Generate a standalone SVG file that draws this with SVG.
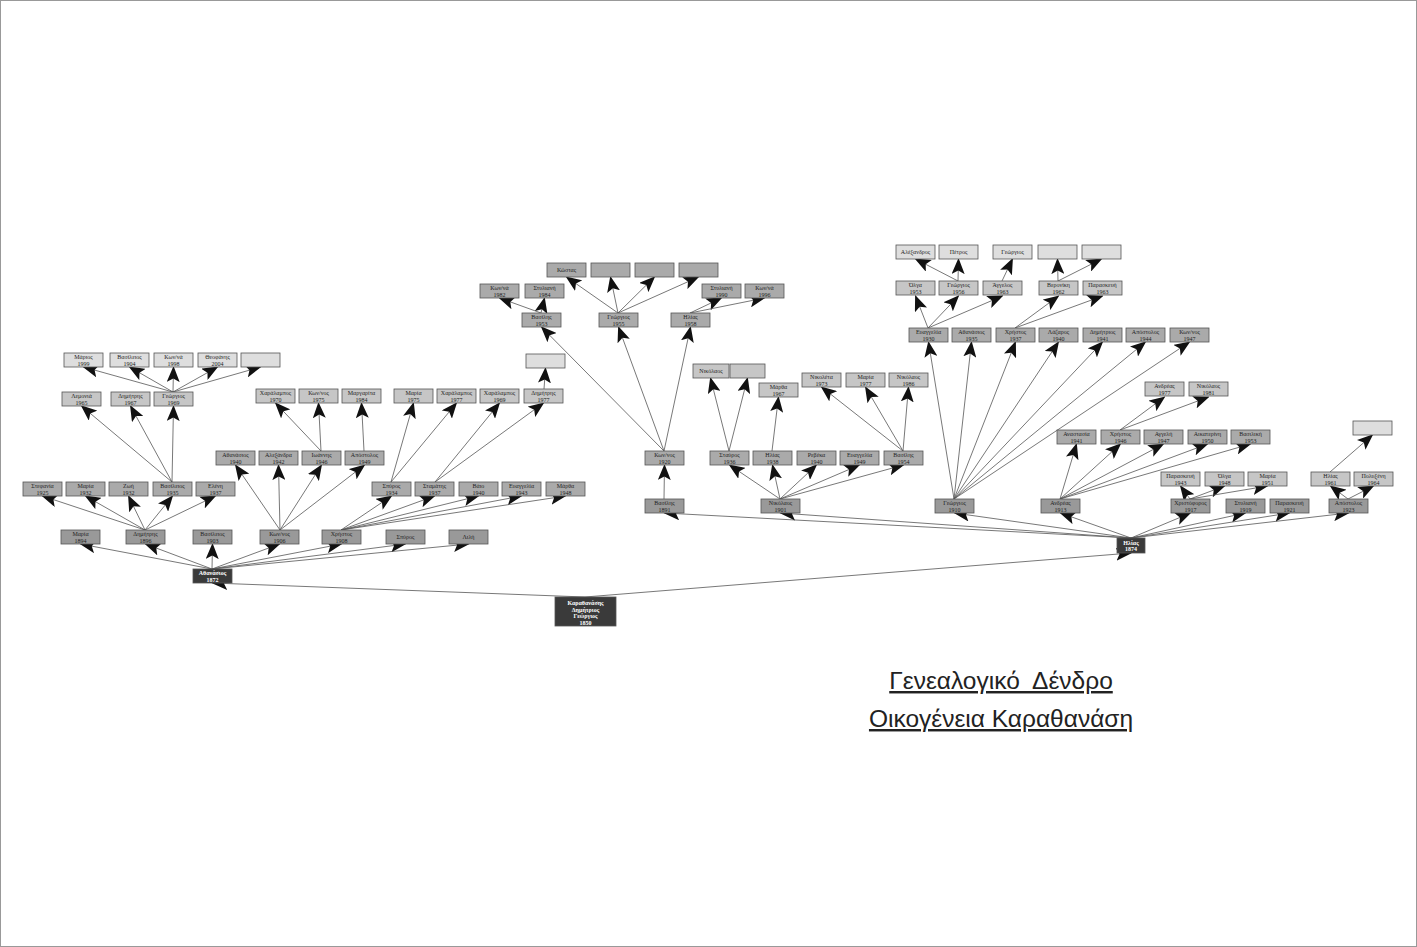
<svg xmlns="http://www.w3.org/2000/svg" width="1417" height="947" viewBox="0 0 1417 947">
<style>
rect.b{stroke:#555;stroke-width:0.8}
.d rect{fill:#3a3a3a}
.g2 rect{fill:#999}
.g3 rect{fill:#aaa}
.g4 rect{fill:#c6c6c6}
.g5 rect{fill:#dedede}
text{font-family:"Liberation Serif","DejaVu Serif",serif;font-size:6px;fill:#222;text-anchor:middle}
.d text{fill:#fff;font-weight:bold}
.edges line{stroke:#555;stroke-width:0.8;marker-end:url(#ah)}
.title{font-family:"Liberation Sans",Arial,sans-serif;font-size:24.5px;fill:#222;text-decoration:underline;white-space:pre}
</style>
<defs>
<marker id="ah" markerUnits="userSpaceOnUse" markerWidth="16" markerHeight="13" viewBox="0 0 16 13" refX="15" refY="6.5" orient="auto">
<path d="M0,0 L16,6.5 L0,13 L3.5,6.5 z" fill="#111"/>
</marker>
</defs>
<rect x="0.5" y="0.5" width="1416" height="946" fill="#fff" stroke="#999"/>

<g class="edges">
<line x1="585" y1="597" x2="212.5" y2="583"/>
<line x1="585" y1="597" x2="1131" y2="553"/>
<line x1="212" y1="569" x2="80.5" y2="544"/>
<line x1="212" y1="569" x2="145.5" y2="544"/>
<line x1="212" y1="569" x2="212.5" y2="544"/>
<line x1="212" y1="569" x2="279.5" y2="544"/>
<line x1="212" y1="569" x2="341.5" y2="544"/>
<line x1="212" y1="569" x2="405.5" y2="544"/>
<line x1="212" y1="569" x2="468.5" y2="544"/>
<line x1="145" y1="530" x2="42.5" y2="496"/>
<line x1="145" y1="530" x2="85.5" y2="496"/>
<line x1="145" y1="530" x2="128.5" y2="496"/>
<line x1="145" y1="530" x2="172.5" y2="496"/>
<line x1="145" y1="530" x2="215.5" y2="496"/>
<line x1="172" y1="482" x2="81.5" y2="406"/>
<line x1="172" y1="482" x2="130.5" y2="406"/>
<line x1="172" y1="482" x2="173.5" y2="406"/>
<line x1="173" y1="392" x2="83.5" y2="367"/>
<line x1="173" y1="392" x2="129.5" y2="367"/>
<line x1="173" y1="392" x2="173.5" y2="367"/>
<line x1="173" y1="392" x2="217.5" y2="367"/>
<line x1="173" y1="392" x2="260.5" y2="367"/>
<line x1="280" y1="530" x2="235.5" y2="465"/>
<line x1="280" y1="530" x2="278.5" y2="465"/>
<line x1="280" y1="530" x2="321.5" y2="465"/>
<line x1="280" y1="530" x2="364.5" y2="465"/>
<line x1="321" y1="451" x2="275.5" y2="403"/>
<line x1="321" y1="451" x2="318.5" y2="403"/>
<line x1="364" y1="451" x2="361.5" y2="403"/>
<line x1="341" y1="530" x2="391.5" y2="496"/>
<line x1="341" y1="530" x2="434.5" y2="496"/>
<line x1="341" y1="530" x2="478.5" y2="496"/>
<line x1="341" y1="530" x2="521.5" y2="496"/>
<line x1="341" y1="530" x2="565.5" y2="496"/>
<line x1="391" y1="482" x2="413.5" y2="403"/>
<line x1="391" y1="482" x2="456.5" y2="403"/>
<line x1="435" y1="482" x2="499.5" y2="403"/>
<line x1="435" y1="482" x2="543.5" y2="403"/>
<line x1="544" y1="389" x2="545.5" y2="368"/>

<line x1="1131" y1="538" x2="664.5" y2="513"/>
<line x1="1131" y1="538" x2="780.5" y2="513"/>
<line x1="1131" y1="538" x2="954.5" y2="513"/>
<line x1="1131" y1="538" x2="1060.5" y2="513"/>
<line x1="1131" y1="538" x2="1190.5" y2="513"/>
<line x1="1131" y1="538" x2="1245.5" y2="513"/>
<line x1="1131" y1="538" x2="1289.5" y2="513"/>
<line x1="1131" y1="538" x2="1348.5" y2="513"/>
<line x1="664" y1="499" x2="664.5" y2="465"/>
<line x1="664" y1="451" x2="541.5" y2="327"/>
<line x1="664" y1="451" x2="618.5" y2="327"/>
<line x1="664" y1="451" x2="690.5" y2="327"/>
<line x1="541" y1="313" x2="499.5" y2="298"/>
<line x1="541" y1="313" x2="544.5" y2="298"/>
<line x1="618" y1="313" x2="566.5" y2="277"/>
<line x1="618" y1="313" x2="610.5" y2="277"/>
<line x1="618" y1="313" x2="654.5" y2="277"/>
<line x1="618" y1="313" x2="698.5" y2="277"/>
<line x1="690" y1="313" x2="721.5" y2="298"/>
<line x1="690" y1="313" x2="764.5" y2="298"/>
<line x1="780" y1="499" x2="729.5" y2="465"/>
<line x1="780" y1="499" x2="772.5" y2="465"/>
<line x1="780" y1="499" x2="816.5" y2="465"/>
<line x1="780" y1="499" x2="859.5" y2="465"/>
<line x1="780" y1="499" x2="903.5" y2="465"/>
<line x1="729" y1="451" x2="710.5" y2="378"/>
<line x1="729" y1="451" x2="747.5" y2="378"/>
<line x1="772" y1="451" x2="778.5" y2="397"/>
<line x1="903" y1="451" x2="821.5" y2="387"/>
<line x1="903" y1="451" x2="865.5" y2="387"/>
<line x1="903" y1="451" x2="908.5" y2="387"/>
<line x1="954" y1="499" x2="928.5" y2="342"/>
<line x1="954" y1="499" x2="971.5" y2="342"/>
<line x1="954" y1="499" x2="1015.5" y2="342"/>
<line x1="954" y1="499" x2="1058.5" y2="342"/>
<line x1="954" y1="499" x2="1102.5" y2="342"/>
<line x1="954" y1="499" x2="1145.5" y2="342"/>
<line x1="954" y1="499" x2="1189.5" y2="342"/>
<line x1="928" y1="328" x2="915.5" y2="296"/>
<line x1="928" y1="328" x2="958.5" y2="296"/>
<line x1="928" y1="328" x2="1002.5" y2="296"/>
<line x1="958" y1="281" x2="915.5" y2="259"/>
<line x1="958" y1="281" x2="958.5" y2="259"/>
<line x1="1002" y1="281" x2="1012.5" y2="259"/>
<line x1="1015" y1="328" x2="1058.5" y2="296"/>
<line x1="1015" y1="328" x2="1102.5" y2="296"/>
<line x1="1058" y1="281" x2="1057.5" y2="259"/>
<line x1="1058" y1="281" x2="1101.5" y2="259"/>
<line x1="1060" y1="499" x2="1076.5" y2="444"/>
<line x1="1060" y1="499" x2="1120.5" y2="444"/>
<line x1="1060" y1="499" x2="1163.5" y2="444"/>
<line x1="1060" y1="499" x2="1207.5" y2="444"/>
<line x1="1060" y1="499" x2="1250.5" y2="444"/>
<line x1="1120" y1="430" x2="1164.5" y2="397"/>
<line x1="1120" y1="430" x2="1208.5" y2="397"/>
<line x1="1190" y1="499" x2="1180.5" y2="486"/>
<line x1="1190" y1="499" x2="1224.5" y2="486"/>
<line x1="1190" y1="499" x2="1267.5" y2="486"/>
<line x1="1348" y1="499" x2="1330.5" y2="486"/>
<line x1="1348" y1="499" x2="1373.5" y2="486"/>
<line x1="1330" y1="472" x2="1372.5" y2="435"/>
</g>

<g id="root" class="d"><rect class="b" x="555" y="597" width="61" height="29"/><text x="585.5" y="605">Καραθανάσης<tspan x="585.5" dy="6.5">Δημήτριος</tspan><tspan x="585.5" dy="6.5">Γεώργιος</tspan><tspan x="585.5" dy="6.5">1850</tspan></text></g>
<g id="athanasios-1872" class="d"><rect class="b" x="193" y="569" width="39" height="14"/><text x="212.5" y="575">Αθανάσιος<tspan x="212.5" dy="6.5">1872</tspan></text></g>
<g id="ilias-1874" class="d"><rect class="b" x="1117" y="538" width="28" height="15"/><text x="1131" y="544.5">Ηλίας<tspan x="1131" dy="6.5">1874</tspan></text></g>

<g id="maria-1894" class="g2"><rect class="b" x="61" y="530" width="39" height="14"/><text x="80.5" y="536">Μαρία<tspan x="80.5" dy="6.5">1894</tspan></text></g>
<g id="dimitris-1896" class="g2"><rect class="b" x="126" y="530" width="39" height="14"/><text x="145.5" y="536">Δημήτρης<tspan x="145.5" dy="6.5">1896</tspan></text></g>
<g id="vasileios-1903" class="g2"><rect class="b" x="193" y="530" width="39" height="14"/><text x="212.5" y="536">Βασίλειος<tspan x="212.5" dy="6.5">1903</tspan></text></g>
<g id="konnos-1906" class="g2"><rect class="b" x="260" y="530" width="39" height="14"/><text x="279.5" y="536">Κων/νος<tspan x="279.5" dy="6.5">1906</tspan></text></g>
<g id="christos-1908" class="g2"><rect class="b" x="322" y="530" width="39" height="14"/><text x="341.5" y="536">Χρήστος<tspan x="341.5" dy="6.5">1908</tspan></text></g>
<g id="spyros" class="g2"><rect class="b" x="386" y="530" width="39" height="14"/><text x="405.5" y="539">Σπύρος</text></g>
<g id="lili" class="g2"><rect class="b" x="449" y="530" width="39" height="14"/><text x="468.5" y="539">Λιλή</text></g>

<g id="stefania-1925" class="g3"><rect class="b" x="23" y="482" width="39" height="14"/><text x="42.5" y="488">Στεφανία<tspan x="42.5" dy="6.5">1925</tspan></text></g>
<g id="maria-1932" class="g3"><rect class="b" x="66" y="482" width="39" height="14"/><text x="85.5" y="488">Μαρία<tspan x="85.5" dy="6.5">1932</tspan></text></g>
<g id="zoi-1932" class="g3"><rect class="b" x="109" y="482" width="39" height="14"/><text x="128.5" y="488">Ζωή<tspan x="128.5" dy="6.5">1932</tspan></text></g>
<g id="vasileios-1935" class="g3"><rect class="b" x="153" y="482" width="39" height="14"/><text x="172.5" y="488">Βασίλειος<tspan x="172.5" dy="6.5">1935</tspan></text></g>
<g id="eleni-1937" class="g3"><rect class="b" x="196" y="482" width="39" height="14"/><text x="215.5" y="488">Ελένη<tspan x="215.5" dy="6.5">1937</tspan></text></g>

<g id="lemonia-1965" class="g4"><rect class="b" x="62" y="392" width="39" height="14"/><text x="81.5" y="398">Λεμονιά<tspan x="81.5" dy="6.5">1965</tspan></text></g>
<g id="dimitris-1967" class="g4"><rect class="b" x="111" y="392" width="39" height="14"/><text x="130.5" y="398">Δημήτρης<tspan x="130.5" dy="6.5">1967</tspan></text></g>
<g id="georgios-1969" class="g4"><rect class="b" x="154" y="392" width="39" height="14"/><text x="173.5" y="398">Γεώργιος<tspan x="173.5" dy="6.5">1969</tspan></text></g>

<g id="marios-1999" class="g5"><rect class="b" x="64" y="353" width="39" height="14"/><text x="83.5" y="359">Μάριος<tspan x="83.5" dy="6.5">1999</tspan></text></g>
<g id="vasileios-1904" class="g5"><rect class="b" x="110" y="353" width="39" height="14"/><text x="129.5" y="359">Βασίλειος<tspan x="129.5" dy="6.5">1904</tspan></text></g>
<g id="konna-1998" class="g5"><rect class="b" x="154" y="353" width="39" height="14"/><text x="173.5" y="359">Κων/νά<tspan x="173.5" dy="6.5">1998</tspan></text></g>
<g id="theofanis-2004" class="g5"><rect class="b" x="198" y="353" width="39" height="14"/><text x="217.5" y="359">Θεοφάνης<tspan x="217.5" dy="6.5">2004</tspan></text></g>
<g id="empty-l1" class="g5"><rect class="b" x="241" y="353" width="39" height="14"/></g>

<g id="athanasios-1940" class="g3"><rect class="b" x="216" y="451" width="39" height="14"/><text x="235.5" y="457">Αθανάσιος<tspan x="235.5" dy="6.5">1940</tspan></text></g>
<g id="alexandra-1942" class="g3"><rect class="b" x="259" y="451" width="39" height="14"/><text x="278.5" y="457">Αλεξάνδρα<tspan x="278.5" dy="6.5">1942</tspan></text></g>
<g id="ioannis-1946" class="g3"><rect class="b" x="302" y="451" width="39" height="14"/><text x="321.5" y="457">Ιωάννης<tspan x="321.5" dy="6.5">1946</tspan></text></g>
<g id="apostolos-1949" class="g3"><rect class="b" x="345" y="451" width="39" height="14"/><text x="364.5" y="457">Απόστολος<tspan x="364.5" dy="6.5">1949</tspan></text></g>
<g id="charalampos-1970" class="g4"><rect class="b" x="256" y="389" width="39" height="14"/><text x="275.5" y="395">Χαράλαμπος<tspan x="275.5" dy="6.5">1970</tspan></text></g>
<g id="konnos-1975" class="g4"><rect class="b" x="299" y="389" width="39" height="14"/><text x="318.5" y="395">Κων/νος<tspan x="318.5" dy="6.5">1975</tspan></text></g>
<g id="margarita-1984" class="g4"><rect class="b" x="342" y="389" width="39" height="14"/><text x="361.5" y="395">Μαργαρίτα<tspan x="361.5" dy="6.5">1984</tspan></text></g>

<g id="spyros-1934" class="g3"><rect class="b" x="372" y="482" width="39" height="14"/><text x="391.5" y="488">Σπύρος<tspan x="391.5" dy="6.5">1934</tspan></text></g>
<g id="stamatis-1937" class="g3"><rect class="b" x="415" y="482" width="39" height="14"/><text x="434.5" y="488">Σταμάτης<tspan x="434.5" dy="6.5">1937</tspan></text></g>
<g id="vaio-1940" class="g3"><rect class="b" x="459" y="482" width="39" height="14"/><text x="478.5" y="488">Βάιο<tspan x="478.5" dy="6.5">1940</tspan></text></g>
<g id="evangelia-1943" class="g3"><rect class="b" x="502" y="482" width="39" height="14"/><text x="521.5" y="488">Ευαγγελία<tspan x="521.5" dy="6.5">1943</tspan></text></g>
<g id="martha-1948" class="g3"><rect class="b" x="546" y="482" width="39" height="14"/><text x="565.5" y="488">Μάρθα<tspan x="565.5" dy="6.5">1948</tspan></text></g>
<g id="maria-1975" class="g4"><rect class="b" x="394" y="389" width="39" height="14"/><text x="413.5" y="395">Μαρία<tspan x="413.5" dy="6.5">1975</tspan></text></g>
<g id="charalampos-1977" class="g4"><rect class="b" x="437" y="389" width="39" height="14"/><text x="456.5" y="395">Χαράλαμπος<tspan x="456.5" dy="6.5">1977</tspan></text></g>
<g id="charalampos-1969" class="g4"><rect class="b" x="480" y="389" width="39" height="14"/><text x="499.5" y="395">Χαράλαμπος<tspan x="499.5" dy="6.5">1969</tspan></text></g>
<g id="dimitris-1977" class="g4"><rect class="b" x="524" y="389" width="39" height="14"/><text x="543.5" y="395">Δημήτρης<tspan x="543.5" dy="6.5">1977</tspan></text></g>
<g id="empty-l2" class="g5"><rect class="b" x="526" y="354" width="39" height="14"/></g>

<g id="vasilis-1891" class="g2"><rect class="b" x="645" y="499" width="39" height="14"/><text x="664.5" y="505">Βασίλης<tspan x="664.5" dy="6.5">1891</tspan></text></g>
<g id="konnos-1920" class="g3"><rect class="b" x="645" y="451" width="39" height="14"/><text x="664.5" y="457">Κων/νος<tspan x="664.5" dy="6.5">1920</tspan></text></g>
<g id="vasilis-1953" class="g3"><rect class="b" x="522" y="313" width="39" height="14"/><text x="541.5" y="319">Βασίλης<tspan x="541.5" dy="6.5">1953</tspan></text></g>
<g id="georgios-1955" class="g3"><rect class="b" x="599" y="313" width="39" height="14"/><text x="618.5" y="319">Γεώργιος<tspan x="618.5" dy="6.5">1955</tspan></text></g>
<g id="ilias-1958" class="g3"><rect class="b" x="671" y="313" width="39" height="14"/><text x="690.5" y="319">Ηλίας<tspan x="690.5" dy="6.5">1958</tspan></text></g>
<g id="konna-1982" class="g3"><rect class="b" x="480" y="284" width="39" height="14"/><text x="499.5" y="290">Κων/νά<tspan x="499.5" dy="6.5">1982</tspan></text></g>
<g id="styliani-1984" class="g3"><rect class="b" x="525" y="284" width="39" height="14"/><text x="544.5" y="290">Στυλιανή<tspan x="544.5" dy="6.5">1984</tspan></text></g>
<g id="kostas" class="g3"><rect class="b" x="547" y="263" width="39" height="14"/><text x="566.5" y="272">Κώστας</text></g>
<g id="empty-m1" class="g3"><rect class="b" x="591" y="263" width="39" height="14"/></g>
<g id="empty-m2" class="g3"><rect class="b" x="635" y="263" width="39" height="14"/></g>
<g id="empty-m3" class="g3"><rect class="b" x="679" y="263" width="39" height="14"/></g>
<g id="styliani-1990" class="g3"><rect class="b" x="702" y="284" width="39" height="14"/><text x="721.5" y="290">Στυλιανή<tspan x="721.5" dy="6.5">1990</tspan></text></g>
<g id="konna-1996" class="g3"><rect class="b" x="745" y="284" width="39" height="14"/><text x="764.5" y="290">Κων/νά<tspan x="764.5" dy="6.5">1996</tspan></text></g>

<g id="nikolaos-1901" class="g2"><rect class="b" x="761" y="499" width="39" height="14"/><text x="780.5" y="505">Νικόλαος<tspan x="780.5" dy="6.5">1901</tspan></text></g>
<g id="stavros-1936" class="g3"><rect class="b" x="710" y="451" width="39" height="14"/><text x="729.5" y="457">Σταύρος<tspan x="729.5" dy="6.5">1936</tspan></text></g>
<g id="ilias-1938" class="g3"><rect class="b" x="753" y="451" width="39" height="14"/><text x="772.5" y="457">Ηλίας<tspan x="772.5" dy="6.5">1938</tspan></text></g>
<g id="reveka-1940" class="g3"><rect class="b" x="797" y="451" width="39" height="14"/><text x="816.5" y="457">Ρεβέκα<tspan x="816.5" dy="6.5">1940</tspan></text></g>
<g id="evangelia-1949" class="g3"><rect class="b" x="840" y="451" width="39" height="14"/><text x="859.5" y="457">Ευαγγελία<tspan x="859.5" dy="6.5">1949</tspan></text></g>
<g id="vasilis-1954" class="g3"><rect class="b" x="884" y="451" width="39" height="14"/><text x="903.5" y="457">Βασίλης<tspan x="903.5" dy="6.5">1954</tspan></text></g>
<g id="nikolaos" class="g4"><rect class="b" x="693" y="364" width="36" height="14"/><text x="711" y="373">Νικόλαος</text></g>
<g id="empty-n1" class="g4"><rect class="b" x="730" y="364" width="35" height="14"/></g>
<g id="martha-1967" class="g4"><rect class="b" x="759" y="383" width="39" height="14"/><text x="778.5" y="389">Μάρθα<tspan x="778.5" dy="6.5">1967</tspan></text></g>
<g id="nikoleta-1973" class="g4"><rect class="b" x="802" y="373" width="39" height="14"/><text x="821.5" y="379">Νικολέτα<tspan x="821.5" dy="6.5">1973</tspan></text></g>
<g id="maria-1977" class="g4"><rect class="b" x="846" y="373" width="39" height="14"/><text x="865.5" y="379">Μαρία<tspan x="865.5" dy="6.5">1977</tspan></text></g>
<g id="nikolaos-1986" class="g4"><rect class="b" x="889" y="373" width="39" height="14"/><text x="908.5" y="379">Νικόλαος<tspan x="908.5" dy="6.5">1986</tspan></text></g>

<g id="georgios-1910" class="g2"><rect class="b" x="935" y="499" width="39" height="14"/><text x="954.5" y="505">Γεώργιος<tspan x="954.5" dy="6.5">1910</tspan></text></g>
<g id="evangelia-1930" class="g3"><rect class="b" x="909" y="328" width="39" height="14"/><text x="928.5" y="334">Ευαγγελία<tspan x="928.5" dy="6.5">1930</tspan></text></g>
<g id="athanasios-1935" class="g3"><rect class="b" x="952" y="328" width="39" height="14"/><text x="971.5" y="334">Αθανάσιος<tspan x="971.5" dy="6.5">1935</tspan></text></g>
<g id="christos-1937" class="g3"><rect class="b" x="996" y="328" width="39" height="14"/><text x="1015.5" y="334">Χρήστος<tspan x="1015.5" dy="6.5">1937</tspan></text></g>
<g id="lazaros-1940" class="g3"><rect class="b" x="1039" y="328" width="39" height="14"/><text x="1058.5" y="334">Λάζαρος<tspan x="1058.5" dy="6.5">1940</tspan></text></g>
<g id="dimitrios-1941" class="g3"><rect class="b" x="1083" y="328" width="39" height="14"/><text x="1102.5" y="334">Δημήτριος<tspan x="1102.5" dy="6.5">1941</tspan></text></g>
<g id="apostolos-1944" class="g3"><rect class="b" x="1126" y="328" width="39" height="14"/><text x="1145.5" y="334">Απόστολος<tspan x="1145.5" dy="6.5">1944</tspan></text></g>
<g id="konnos-1947" class="g3"><rect class="b" x="1170" y="328" width="39" height="14"/><text x="1189.5" y="334">Κων/νος<tspan x="1189.5" dy="6.5">1947</tspan></text></g>
<g id="olga-1953" class="g4"><rect class="b" x="896" y="281" width="39" height="14"/><text x="915.5" y="287">Όλγα<tspan x="915.5" dy="6.5">1953</tspan></text></g>
<g id="georgios-1956" class="g4"><rect class="b" x="939" y="281" width="39" height="14"/><text x="958.5" y="287">Γεώργιος<tspan x="958.5" dy="6.5">1956</tspan></text></g>
<g id="angelos-1963" class="g4"><rect class="b" x="983" y="281" width="39" height="14"/><text x="1002.5" y="287">Άγγελος<tspan x="1002.5" dy="6.5">1963</tspan></text></g>
<g id="veroniki-1962" class="g4"><rect class="b" x="1039" y="281" width="39" height="14"/><text x="1058.5" y="287">Βερονίκη<tspan x="1058.5" dy="6.5">1962</tspan></text></g>
<g id="paraskevi-1963" class="g4"><rect class="b" x="1083" y="281" width="39" height="14"/><text x="1102.5" y="287">Παρασκευή<tspan x="1102.5" dy="6.5">1963</tspan></text></g>
<g id="alexandros" class="g5"><rect class="b" x="896" y="245" width="39" height="14"/><text x="915.5" y="254">Αλέξανδρος</text></g>
<g id="petros" class="g5"><rect class="b" x="939" y="245" width="39" height="14"/><text x="958.5" y="254">Πέτρος</text></g>
<g id="georgios-top" class="g5"><rect class="b" x="993" y="245" width="39" height="14"/><text x="1012.5" y="254">Γεώργιος</text></g>
<g id="empty-g1" class="g5"><rect class="b" x="1038" y="245" width="39" height="14"/></g>
<g id="empty-g2" class="g5"><rect class="b" x="1082" y="245" width="39" height="14"/></g>

<g id="andreas-1913" class="g2"><rect class="b" x="1041" y="499" width="39" height="14"/><text x="1060.5" y="505">Ανδρέας<tspan x="1060.5" dy="6.5">1913</tspan></text></g>
<g id="anastasia-1941" class="g3"><rect class="b" x="1057" y="430" width="39" height="14"/><text x="1076.5" y="436">Αναστασία<tspan x="1076.5" dy="6.5">1941</tspan></text></g>
<g id="christos-1946" class="g3"><rect class="b" x="1101" y="430" width="39" height="14"/><text x="1120.5" y="436">Χρήστος<tspan x="1120.5" dy="6.5">1946</tspan></text></g>
<g id="angeli-1947" class="g3"><rect class="b" x="1144" y="430" width="39" height="14"/><text x="1163.5" y="436">Αγγελή<tspan x="1163.5" dy="6.5">1947</tspan></text></g>
<g id="aikaterini-1950" class="g3"><rect class="b" x="1188" y="430" width="39" height="14"/><text x="1207.5" y="436">Αικατερίνη<tspan x="1207.5" dy="6.5">1950</tspan></text></g>
<g id="vasiliki-1953" class="g3"><rect class="b" x="1231" y="430" width="39" height="14"/><text x="1250.5" y="436">Βασιλική<tspan x="1250.5" dy="6.5">1953</tspan></text></g>
<g id="andreas-1977" class="g4"><rect class="b" x="1145" y="382" width="39" height="14"/><text x="1164.5" y="388">Ανδρέας<tspan x="1164.5" dy="6.5">1977</tspan></text></g>
<g id="nikolaos-1981" class="g4"><rect class="b" x="1189" y="382" width="39" height="14"/><text x="1208.5" y="388">Νικόλαος<tspan x="1208.5" dy="6.5">1981</tspan></text></g>

<g id="christoforos-1917" class="g2"><rect class="b" x="1171" y="499" width="39" height="14"/><text x="1190.5" y="505">Χριστόφορος<tspan x="1190.5" dy="6.5">1917</tspan></text></g>
<g id="styliani-1919" class="g2"><rect class="b" x="1226" y="499" width="39" height="14"/><text x="1245.5" y="505">Στυλιανή<tspan x="1245.5" dy="6.5">1919</tspan></text></g>
<g id="paraskevi-1921" class="g2"><rect class="b" x="1270" y="499" width="39" height="14"/><text x="1289.5" y="505">Παρασκευή<tspan x="1289.5" dy="6.5">1921</tspan></text></g>
<g id="apostolos-1923" class="g2"><rect class="b" x="1329" y="499" width="39" height="14"/><text x="1348.5" y="505">Απόστολος<tspan x="1348.5" dy="6.5">1923</tspan></text></g>
<g id="paraskevi-1943" class="g4"><rect class="b" x="1161" y="472" width="39" height="14"/><text x="1180.5" y="478">Παρασκευή<tspan x="1180.5" dy="6.5">1943</tspan></text></g>
<g id="olga-1948" class="g4"><rect class="b" x="1205" y="472" width="39" height="14"/><text x="1224.5" y="478">Όλγα<tspan x="1224.5" dy="6.5">1948</tspan></text></g>
<g id="maria-1951" class="g4"><rect class="b" x="1248" y="472" width="39" height="14"/><text x="1267.5" y="478">Μαρία<tspan x="1267.5" dy="6.5">1951</tspan></text></g>
<g id="ilias-1961" class="g4"><rect class="b" x="1311" y="472" width="39" height="14"/><text x="1330.5" y="478">Ηλίας<tspan x="1330.5" dy="6.5">1961</tspan></text></g>
<g id="polyxeni-1964" class="g4"><rect class="b" x="1354" y="472" width="39" height="14"/><text x="1373.5" y="478">Πολυξένη<tspan x="1373.5" dy="6.5">1964</tspan></text></g>
<g id="empty-r1" class="g5"><rect class="b" x="1353" y="421" width="39" height="14"/></g>

<text class="title" x="1001" y="689">Γενεαλογικό  Δένδρο</text>
<text class="title" x="1001" y="727">Οικογένεια Καραθανάση</text>
</svg>
